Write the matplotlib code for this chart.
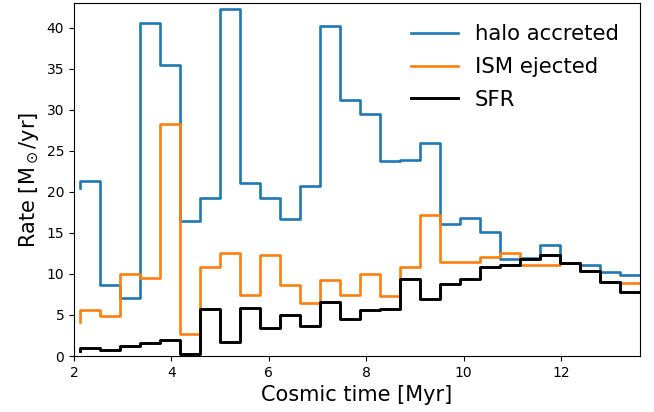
import numpy as np
import matplotlib
matplotlib.use('Agg')
import matplotlib.pyplot as plt

# bin edges in cosmic time, first value is the starting level at the left edge
t_edges = np.linspace(2.12, 13.62, 29)

halo = [20.45, 21.3, 8.66, 7.07, 40.6, 35.5, 16.46, 19.3, 42.3, 21.1, 19.25, 16.7, 20.75, 40.2,
        31.15, 29.5, 23.7, 23.9, 25.9, 16.06, 16.87, 15.08, 11.8, 11.9, 13.5, 11.3, 11.1, 10.2, 9.9]
ism = [4.2, 5.6, 4.9, 9.96, 9.5, 28.3, 2.7, 10.8, 12.5, 7.44, 12.3, 8.66, 6.5, 9.23,
       7.44, 10.04, 7.28, 10.85, 17.2, 11.5, 11.4, 12.0, 12.6, 11.06, 11.1, 11.3, 10.3, 9.0, 8.87]
sfr = [0.65, 0.93, 0.77, 1.26, 1.54, 1.91, 0.28, 5.73, 1.75, 5.85, 3.41, 4.96, 3.7, 6.59,
       4.55, 5.6, 5.73, 9.43, 6.99, 8.82, 9.43, 10.85, 11.1, 11.87, 12.3, 11.3, 10.3, 9.0, 7.84]

fig = plt.figure(figsize=(6.54, 4.12), dpi=100)
ax = fig.add_axes([74/654, 56/412, 566/654, 353/412])

ax.step(t_edges, halo, where='pre', color='#1f77b4', lw=1.9, label='halo accreted')
ax.step(t_edges, ism, where='pre', color='#ff7f0e', lw=1.9, label='ISM ejected')
ax.step(t_edges, sfr, where='pre', color='black', lw=2.1, label='SFR')

ax.set_xlim(2, 13.62)
ax.set_ylim(0, 43)
ax.set_xticks([2, 4, 6, 8, 10, 12])
ax.set_yticks([0, 5, 10, 15, 20, 25, 30, 35, 40])
ax.tick_params(labelsize=10)

ax.set_xlabel('Cosmic time [Myr]', fontsize=15)
ax.set_ylabel(r'Rate [M$_\odot$/yr]', fontsize=15)
ax.legend(loc='upper right', frameon=False, fontsize=15.3, labelspacing=0.6,
          handlelength=2.2, borderaxespad=0.6)

plt.savefig('out.png', dpi=100)
